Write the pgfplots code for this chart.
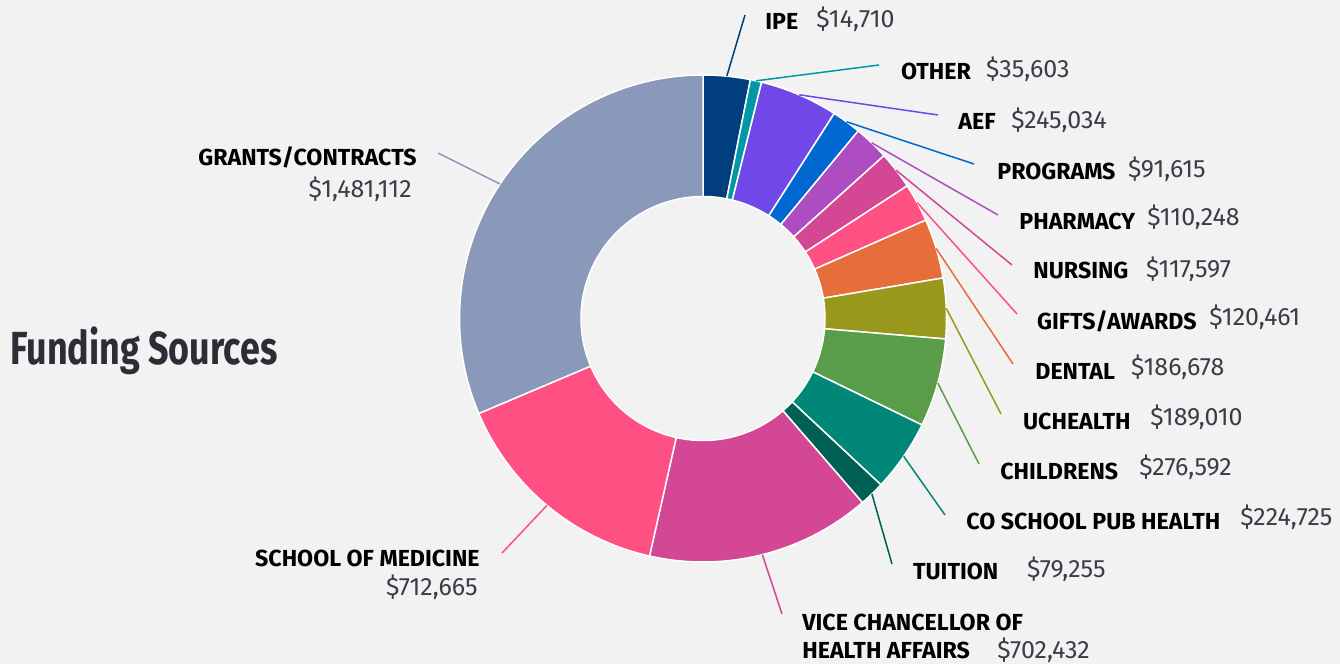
\documentclass[border=0pt]{standalone}
\usepackage{pgfplots}
\pgfplotsset{compat=1.18}
\usepackage{pgfplotstable}
\usepackage{graphicx}
\usepackage{fontspec}
\setmainfont{Fira Sans}

\definecolor{bg}{HTML}{F2F2F2}
\definecolor{amt}{HTML}{3C3C48}
\definecolor{ttl}{HTML}{2D2D37}
\definecolor{cIPE}{HTML}{003E7E}
\definecolor{cOTHER}{HTML}{0098A6}
\definecolor{cAEF}{HTML}{7048E8}
\definecolor{cPROGRAMS}{HTML}{0068D0}
\definecolor{cPHARMACY}{HTML}{AE4DC1}
\definecolor{cNURSING}{HTML}{D34795}
\definecolor{cGIFTS}{HTML}{FF5083}
\definecolor{cDENTAL}{HTML}{E76D3B}
\definecolor{cUCHEALTH}{HTML}{98981D}
\definecolor{cCHILDRENS}{HTML}{599C49}
\definecolor{cCOSPH}{HTML}{008777}
\definecolor{cTUITION}{HTML}{006054}
\definecolor{cVCHA}{HTML}{D34795}
\definecolor{cSOM}{HTML}{FF5083}
\definecolor{cGRANTS}{HTML}{8A98B9}

% slice sizes as drawn (the IPE slice is drawn at about 147,100 although its label reads $14,710)
% lx, ly: end of the leader line (picture pixels, y downward)
\pgfplotstableread[col sep=comma]{
key,value,lx,ly
IPE,147100,745,15
OTHER,35603,879,65
AEF,245034,938,115
PROGRAMS,91615,974,164
PHARMACY,110248,998,215
NURSING,117597,1012,265
GIFTS,120461,1017,314
DENTAL,186678,1013,364
UCHEALTH,189010,1001,414
CHILDRENS,276592,979,464
COSPH,224725,945,515
TUITION,79255,892,564
VCHA,702432,782,614
SOM,712665,502,553
GRANTS,1481112,438,153
}\fundtable

\newcommand\cx{703}
\newcommand\cy{345.5}
\newcommand\Rout{243.5}
\newcommand\Rin{122}
\newcommand\namefont{\fontsize{11.6pt}{14pt}\selectfont\bfseries\color{black}}
\newcommand\amtfont{\fontsize{12.5pt}{14pt}\selectfont\color{amt}}

\begin{document}
\begin{tikzpicture}
\pgfplotstablegetrowsof{\fundtable}
\pgfmathtruncatemacro\nrows{\pgfplotsretval-1}
\gdef\total{0}
\pgfplotsforeachungrouped \i in {0,...,\nrows}{%
  \pgfplotstablegetelem{\i}{value}\of\fundtable
  \xdef\total{\fpeval{\total+\pgfplotsretval}}%
}
\begin{axis}[hide axis, x=0.5pt, y=0.5pt, xmin=0, xmax=1340, ymin=0, ymax=664, clip=false]
\fill[bg] (axis cs:0,0) rectangle (axis cs:1340,664);
\gdef\cum{0}
\pgfplotsforeachungrouped \i in {0,...,\nrows}{%
  \pgfplotstablegetelem{\i}{key}\of\fundtable \let\k\pgfplotsretval
  \pgfplotstablegetelem{\i}{value}\of\fundtable \let\v\pgfplotsretval
  \pgfplotstablegetelem{\i}{lx}\of\fundtable \let\lx\pgfplotsretval
  \pgfplotstablegetelem{\i}{ly}\of\fundtable \let\ly\pgfplotsretval
  \edef\aS{\fpeval{90-360*\cum/\total}}%
  \xdef\cum{\fpeval{\cum+\v}}%
  \edef\aE{\fpeval{90-360*\cum/\total}}%
  \edef\aM{\fpeval{(\aS+\aE)/2}}%
  \edef\oSx{\fpeval{\cx+\Rout*cosd(\aS)}}%
  \edef\oSy{\fpeval{\cy+\Rout*sind(\aS)}}%
  \edef\iEx{\fpeval{\cx+\Rin*cosd(\aE)}}%
  \edef\iEy{\fpeval{\cy+\Rin*sind(\aE)}}%
  \edef\mx{\fpeval{\cx+\Rout*cosd(\aM)}}%
  \edef\my{\fpeval{\cy+\Rout*sind(\aM)}}%
  \edef\cmd{\noexpand\fill[c\k, draw=white, line width=0.75pt, line join=round]
     (axis cs:\oSx,\oSy) arc[start angle=\aS, end angle=\aE, radius=\fpeval{\Rout*0.5}pt]
     -- (axis cs:\iEx,\iEy) arc[start angle=\aE, end angle=\aS, radius=\fpeval{\Rin*0.5}pt] -- cycle;
     \noexpand\draw[c\k, line width=0.75pt] (axis cs:\mx,\my) -- (axis cs:\lx,\fpeval{664-\ly});}%
  \cmd
}

% title
\node[anchor=base west, inner sep=0, text=ttl] at (axis cs:10,299)
  {\resizebox{133.5pt}{\height}{\fontsize{23.2pt}{28pt}\selectfont\bfseries Funding Sources}};

% right-hand labels
\node[anchor=base west, inner sep=0, font=\namefont] at (axis cs:765,634) {IPE};
\node[anchor=base west, inner sep=0, font=\amtfont] at (axis cs:816,636.7) {\$14,710};
\node[anchor=base west, inner sep=0, font=\namefont] at (axis cs:900.7,584.7) {OTHER};
\node[anchor=base west, inner sep=0, font=\amtfont] at (axis cs:985.7,586.7) {\$35,603};
\node[anchor=base west, inner sep=0, font=\namefont] at (axis cs:958,534.7) {AEF};
\node[anchor=base west, inner sep=0, font=\amtfont] at (axis cs:1011,535.7) {\$245,034};
\node[anchor=base west, inner sep=0, font=\namefont] at (axis cs:997,484) {PROGRAMS};
\node[anchor=base west, inner sep=0, font=\amtfont] at (axis cs:1127.7,486.3) {\$91,615};
\node[anchor=base west, inner sep=0, font=\namefont] at (axis cs:1019,434) {PHARMACY};
\node[anchor=base west, inner sep=0, font=\amtfont] at (axis cs:1147,438) {\$110,248};
\node[anchor=base west, inner sep=0, font=\namefont] at (axis cs:1033,385) {NURSING};
\node[anchor=base west, inner sep=0, font=\amtfont] at (axis cs:1145.7,386.3) {\$117,597};
\node[anchor=base west, inner sep=0, font=\namefont] at (axis cs:1036.7,334.7) {GIFTS/AWARDS};
\node[anchor=base west, inner sep=0, font=\amtfont] at (axis cs:1209,338) {\$120,461};
\node[anchor=base west, inner sep=0, font=\namefont] at (axis cs:1035,284) {DENTAL};
\node[anchor=base west, inner sep=0, font=\amtfont] at (axis cs:1130.7,288) {\$186,678};
\node[anchor=base west, inner sep=0, font=\namefont] at (axis cs:1022.7,234) {UCHEALTH};
\node[anchor=base west, inner sep=0, font=\amtfont] at (axis cs:1150,238.3) {\$189,010};
\node[anchor=base west, inner sep=0, font=\namefont] at (axis cs:1000,184.7) {CHILDRENS};
\node[anchor=base west, inner sep=0, font=\amtfont] at (axis cs:1139,188) {\$276,592};
\node[anchor=base west, inner sep=0, font=\namefont] at (axis cs:966,134.7) {CO SCHOOL PUB HEALTH};
\node[anchor=base west, inner sep=0, font=\amtfont] at (axis cs:1240,138.3) {\$224,725};
\node[anchor=base west, inner sep=0, font=\namefont] at (axis cs:912.7,84) {TUITION};
\node[anchor=base west, inner sep=0, font=\amtfont] at (axis cs:1026.7,86.7) {\$79,255};
\node[anchor=base west, inner sep=0, font=\namefont] at (axis cs:802,33.3) {VICE CHANCELLOR OF};
\node[anchor=base west, inner sep=0, font=\namefont] at (axis cs:802,5) {HEALTH AFFAIRS};
\node[anchor=base west, inner sep=0, font=\amtfont] at (axis cs:997,5.7) {\$702,432};

% left-hand labels
\node[anchor=base east, inner sep=0, font=\namefont] at (axis cs:480,97.3) {SCHOOL OF MEDICINE};
\node[anchor=base east, inner sep=0, font=\amtfont] at (axis cs:478,68) {\$712,665};
\node[anchor=base east, inner sep=0, font=\namefont] at (axis cs:417,498) {GRANTS/CONTRACTS};
\node[anchor=base east, inner sep=0, font=\amtfont] at (axis cs:412,466.7) {\$1,481,112};
\end{axis}
\end{tikzpicture}
\end{document}
